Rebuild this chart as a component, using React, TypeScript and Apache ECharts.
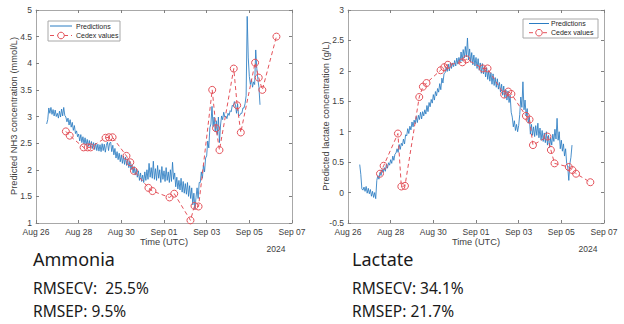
import React, { useEffect, useRef } from "react";
import * as echarts from "echarts";

// x values are days since 2024-08-26 00:00 UTC
const X_TICK_LABELS = ["Aug 26", "Aug 28", "Aug 30", "Sep 01", "Sep 03", "Sep 05", "Sep 07"];
const YEAR_LABEL = "2024";
const X_AXIS_TITLE = "Time (UTC)";

const SERIES_PRED = "Predictions";
const SERIES_CEDEX = "Cedex values";

// ---- Ammonia ----
const AMM_Y_TITLE = "Predicted NH3 concentration (mmol/L)";
const AMM_PRED_START = 0.5;
const AMM_PRED_STEP = 0.05;
const AMM_PRED = [
  2.86, 2.94, 3.16, 3.06, 3.17, 3.04, 3.13, 3.01, 3.12, 3.00,
  3.06, 2.97, 3.10, 2.99, 3.14, 3.01, 3.17, 3.02, 2.99, 2.90,
  2.97, 2.84, 2.94, 2.80, 2.89, 2.74, 2.83, 2.68, 2.73, 2.62,
  2.67, 2.54, 2.66, 2.51, 2.62, 2.48, 2.60, 2.46, 2.57, 2.44,
  2.55, 2.42, 2.53, 2.40, 2.51, 2.38, 2.50, 2.36, 2.48, 2.35,
  2.47, 2.34, 2.49, 2.36, 2.48, 2.33, 2.46, 2.52, 2.36, 2.50,
  2.52, 2.34, 2.46, 2.28, 2.40, 2.22, 2.34, 2.19, 2.31, 2.15,
  2.28, 2.12, 2.26, 2.10, 2.24, 2.08, 2.20, 2.04, 2.16, 2.00,
  2.10, 1.94, 2.06, 1.90, 2.02, 1.86, 1.98, 1.80, 1.94, 1.78,
  1.90, 1.76, 1.96, 1.80, 2.00, 1.82, 2.12, 1.86, 2.04, 1.84,
  2.16, 1.82, 2.02, 1.80, 2.08, 1.84, 2.00, 1.76, 2.06, 1.82,
  1.98, 1.78, 2.04, 1.80, 1.96, 1.76, 2.00, 1.78, 2.14, 1.82,
  1.94, 1.68, 1.86, 1.64, 1.80, 1.62, 1.84, 1.58, 1.78, 1.56,
  1.74, 1.54, 1.76, 1.50, 1.70, 1.46, 1.66, 1.34, 1.56, 1.26,
  1.48, 1.66, 1.46, 1.76, 1.76, 1.96, 1.84, 2.09, 1.96, 2.22,
  2.26, 2.54, 2.41, 2.79, 2.86, 3.19, 2.81, 2.99, 2.71, 2.92,
  2.66, 2.99, 2.51, 2.84, 3.01, 2.94, 3.08, 2.99, 3.01, 2.96,
  3.06, 3.02, 3.11, 3.09, 3.21, 3.19, 3.28, 3.22, 3.06, 3.24,
  3.01, 3.02, 3.06, 3.06, 3.16, 3.16, 3.24, 3.39, 4.88, 4.10,
  3.75, 3.60, 3.70, 3.55, 3.65, 3.60, 4.25, 3.90, 3.70, 3.55,
  3.22,
];
const AMM_CEDEX_DAY = [1.40, 1.58, 2.23, 2.42, 2.56, 3.26, 3.42, 3.59, 4.24, 4.42, 4.59, 5.27, 5.46, 6.26, 6.48, 7.24, 7.43, 7.62, 8.26, 8.44, 8.60, 9.27, 9.43, 9.60, 10.27, 10.44, 10.61, 11.27];
const AMM_CEDEX_VAL = [2.72, 2.64, 2.42, 2.42, 2.42, 2.60, 2.61, 2.61, 2.26, 2.14, 1.98, 1.66, 1.60, 1.48, 1.55, 1.05, 1.32, 1.31, 3.50, 2.78, 2.37, 3.90, 3.21, 2.70, 4.01, 3.73, 3.50, 4.50];

// ---- Lactate ----
const LAC_Y_TITLE = "Predicted lactate concentration (g/L)";
const LAC_PRED_START = 0.55;
const LAC_PRED_STEP = 0.05;
const LAC_PRED = [
  0.46, 0.30, 0.06, 0.04, 0.09, 0.02, 0.10, -0.01, 0.07, -0.02,
  0.05, -0.06, 0.02, -0.08, 0.00, -0.10, 0.20, 0.28, 0.22, 0.33,
  0.28, 0.38, 0.33, 0.41, 0.35, 0.47, 0.40, 0.49, 0.45, 0.54,
  0.48, 0.60, 0.53, 0.63, 0.65, 0.72, 0.66, 0.79, 0.71, 0.81,
  0.77, 0.88, 0.80, 0.95, 0.93, 1.05, 0.97, 1.09, 1.03, 1.16,
  1.08, 1.19, 1.13, 1.25, 1.15, 1.27, 1.20, 1.32, 1.21, 1.33,
  1.26, 1.36, 1.29, 1.43, 1.33, 1.48, 1.41, 1.53, 1.47, 1.61,
  1.52, 1.66, 1.59, 1.71, 1.65, 1.79, 1.69, 1.88, 1.80, 1.95,
  1.97, 2.06, 1.99, 2.11, 2.00, 2.13, 2.04, 2.13, 2.07, 2.17,
  2.08, 2.21, 2.11, 2.22, 2.14, 2.31, 2.16, 2.35, 2.21, 2.40,
  2.23, 2.54, 2.18, 2.36, 2.14, 2.30, 2.10, 2.26, 2.08, 2.22,
  2.04, 2.20, 2.01, 2.13, 1.96, 2.12, 1.95, 2.07, 1.90, 2.05,
  1.86, 2.00, 1.83, 1.97, 1.78, 1.95, 1.76, 1.89, 1.73, 1.87,
  1.70, 1.81, 1.65, 1.78, 1.60, 1.75, 1.56, 1.69, 1.52, 1.67,
  1.48, 1.60, 1.32, 1.24, 1.08, 1.18, 1.02, 1.12, 1.00, 1.10,
  1.28, 1.57, 1.40, 1.82, 1.36, 1.52, 1.26, 1.38, 1.14, 1.24,
  0.96, 1.12, 0.94, 1.08, 0.92, 1.10, 0.94, 1.14, 0.90, 1.06,
  0.86, 1.02, 0.84, 0.98, 0.82, 1.00, 0.78, 0.94, 0.74, 0.90,
  0.78, 0.96, 0.84, 1.04, 0.88, 1.22, 0.86, 1.00, 0.72, 0.86,
  0.68, 0.80, 0.60, 0.72, 0.48, 0.42, 0.20, 0.47, 0.58, 0.78,
];
const LAC_CEDEX_DAY = [1.50, 1.67, 2.34, 2.50, 2.67, 3.34, 3.51, 3.68, 4.34, 4.51, 4.68, 5.36, 5.55, 6.32, 6.54, 7.32, 7.51, 7.66, 8.34, 8.51, 8.67, 9.35, 9.51, 9.68, 10.35, 10.52, 10.69, 11.36];
const LAC_CEDEX_VAL = [0.31, 0.44, 0.97, 0.10, 0.11, 1.57, 1.74, 1.80, 2.01, 2.06, 2.10, 2.14, 2.19, 2.04, 2.04, 1.61, 1.66, 1.62, 1.26, 1.20, 0.78, 0.92, 0.70, 0.48, 0.42, 0.37, 0.31, 0.17];

// ---- Text below the charts ----
const AMM_TITLE = "Ammonia";
const AMM_STATS = ["RMSECV:  25.5%", "RMSEP: 9.5%"];
const LAC_TITLE = "Lactate";
const LAC_STATS = ["RMSECV: 34.1%", "RMSEP: 21.7%"];

const AXIS_FONT = "'Liberation Sans', Arial, Helvetica, sans-serif";
const BODY_FONT = "'Noto Sans', 'Open Sans', sans-serif";
const PRED_COLOR = "#2a7cc2";
const CEDEX_COLOR = "#e4525a";
const BOX_COLOR = "#a8a8a8";
const LABEL_COLOR = "#404040";

export default function App() {
  const ref = useRef<HTMLDivElement>(null);

  useEffect(() => {
    const chart = echarts.init(ref.current!, null, { renderer: "svg" });

    const grids = [
      { left: 36, top: 10, width: 256, height: 213 },
      { left: 348, top: 10, width: 256, height: 213 },
    ];

    const tick = { show: true, inside: true, length: 3, lineStyle: { color: "#808080" } };
    const line = { show: true, onZero: false, lineStyle: { color: BOX_COLOR, width: 1 } };

    const xMain = (gi: number) => ({
      type: "value",
      gridIndex: gi,
      position: "bottom",
      min: 0,
      max: 12,
      interval: 2,
      axisLine: line,
      axisTick: tick,
      splitLine: { show: false },
      axisLabel: {
        color: LABEL_COLOR,
        fontSize: 8.5,
        fontFamily: AXIS_FONT,
        margin: 4,
        formatter: (v: number) => X_TICK_LABELS[Math.round(v / 2)] ?? "",
      },
    });
    const xTop = (gi: number) => ({
      type: "value",
      gridIndex: gi,
      position: "top",
      min: 0,
      max: 12,
      interval: 2,
      axisLine: line,
      axisTick: tick,
      splitLine: { show: false },
      axisLabel: { show: false },
    });
    const yMain = (gi: number, min: number, max: number) => ({
      type: "value",
      gridIndex: gi,
      position: "left",
      min,
      max,
      interval: 0.5,
      axisLine: line,
      axisTick: tick,
      splitLine: { show: false },
      axisLabel: {
        color: LABEL_COLOR,
        fontSize: 8.5,
        fontFamily: AXIS_FONT,
        margin: 4,
        formatter: (v: number) => String(Math.round(v * 10) / 10),
      },
    });
    const yRight = (gi: number, min: number, max: number) => ({
      type: "value",
      gridIndex: gi,
      position: "right",
      min,
      max,
      interval: 0.5,
      axisLine: line,
      axisTick: tick,
      splitLine: { show: false },
      axisLabel: { show: false },
    });

    const predData = (start: number, step: number, vals: number[]) =>
      vals.map((v, i) => [start + i * step, v]);
    const pairData = (xs: number[], ys: number[]) => xs.map((x, i) => [x, ys[i]]);

    const predSeries = (axis: number, data: number[][]) => ({
      type: "line",
      name: SERIES_PRED,
      xAxisIndex: axis,
      yAxisIndex: axis,
      data,
      showSymbol: false,
      symbol: "none",
      lineStyle: { color: PRED_COLOR, width: 0.85 },
      itemStyle: { color: PRED_COLOR },
      z: 2,
    });
    const cedexSeries = (axis: number, data: number[][]) => ({
      type: "line",
      name: SERIES_CEDEX,
      xAxisIndex: axis,
      yAxisIndex: axis,
      data,
      symbol: "circle",
      symbolSize: 7,
      showAllSymbol: true,
      lineStyle: { color: CEDEX_COLOR, width: 1, type: [4, 3] },
      itemStyle: { color: "rgba(0,0,0,0)", borderColor: CEDEX_COLOR, borderWidth: 1 },
      z: 3,
    });

    // MATLAB-style legend box drawn with graphic elements
    const legendBox = (x: number, y: number, w: number, h: number, lineX: number, lineLen: number, textX: number, row1: number, row2: number) => ({
      type: "group",
      z: 100,
      children: [
        { type: "rect", shape: { x, y, width: w, height: h }, style: { fill: "#fff", stroke: BOX_COLOR, lineWidth: 1 } },
        { type: "line", shape: { x1: lineX, y1: row1, x2: lineX + lineLen, y2: row1 }, style: { stroke: PRED_COLOR, lineWidth: 1 } },
        { type: "text", x: textX, y: row1, style: { text: SERIES_PRED, fill: "#262626", fontSize: 7, fontFamily: AXIS_FONT, align: "left", verticalAlign: "middle" } },
        { type: "line", shape: { x1: lineX, y1: row2, x2: lineX + lineLen, y2: row2 }, style: { stroke: CEDEX_COLOR, lineWidth: 1, lineDash: [4, 3] } },
        { type: "circle", shape: { cx: lineX + lineLen / 2, cy: row2, r: 3.3 }, style: { fill: "#fff", stroke: CEDEX_COLOR, lineWidth: 1 } },
        { type: "text", x: textX, y: row2, style: { text: SERIES_CEDEX, fill: "#262626", fontSize: 7, fontFamily: AXIS_FONT, align: "left", verticalAlign: "middle" } },
      ],
    });

    const axisTitle = (x: number, y: number, text: string, rotate = false) => ({
      type: "text",
      x,
      y,
      rotation: rotate ? Math.PI / 2 : 0,
      style: {
        text,
        fill: LABEL_COLOR,
        fontSize: 9.3,
        fontFamily: AXIS_FONT,
        align: "center",
        verticalAlign: "middle",
      },
    });
    const yearText = (x: number) => ({
      type: "text",
      x,
      y: 249,
      style: { text: YEAR_LABEL, fill: LABEL_COLOR, fontSize: 8.5, fontFamily: AXIS_FONT, align: "center", verticalAlign: "middle" },
    });
    const bodyText = (x: number, y: number, text: string, size: number) => ({
      type: "text",
      x,
      y,
      style: { text, fill: "#1a1a1a", fontSize: size, fontFamily: BODY_FONT, align: "left", verticalAlign: "middle" },
    });

    chart.setOption({
      animation: false,
      backgroundColor: "#ffffff",
      grid: grids,
      xAxis: [xMain(0), xTop(0), xMain(1), xTop(1)],
      yAxis: [yMain(0, 1, 5), yRight(0, 1, 5), yMain(1, -0.5, 3), yRight(1, -0.5, 3)],
      series: [
        predSeries(0, predData(AMM_PRED_START, AMM_PRED_STEP, AMM_PRED)),
        cedexSeries(0, pairData(AMM_CEDEX_DAY, AMM_CEDEX_VAL)),
        predSeries(2, predData(LAC_PRED_START, LAC_PRED_STEP, LAC_PRED)),
        cedexSeries(2, pairData(LAC_CEDEX_DAY, LAC_CEDEX_VAL)),
      ],
      graphic: [
        legendBox(48, 21, 72, 20, 50, 22, 76, 26, 35.5),
        legendBox(523, 19, 75, 19, 529, 20, 551, 23.5, 32.7),
        axisTitle(164, 242, X_AXIS_TITLE),
        axisTitle(476, 242, X_AXIS_TITLE),
        axisTitle(13.5, 116, AMM_Y_TITLE, true),
        axisTitle(325.5, 116, LAC_Y_TITLE, true),
        yearText(276),
        yearText(588),
        bodyText(33, 259, AMM_TITLE, 18),
        bodyText(33, 287.5, AMM_STATS[0], 15.5),
        bodyText(33, 310.5, AMM_STATS[1], 15.5),
        bodyText(352, 259, LAC_TITLE, 18),
        bodyText(352, 287.5, LAC_STATS[0], 15.5),
        bodyText(352, 310.5, LAC_STATS[1], 15.5),
      ],
    });

    return () => chart.dispose();
  }, []);

  return (
    <div
      ref={ref}
      style={{ position: "fixed", left: 0, top: 0, width: 624, height: 324, background: "#fff" }}
    />
  );
}
